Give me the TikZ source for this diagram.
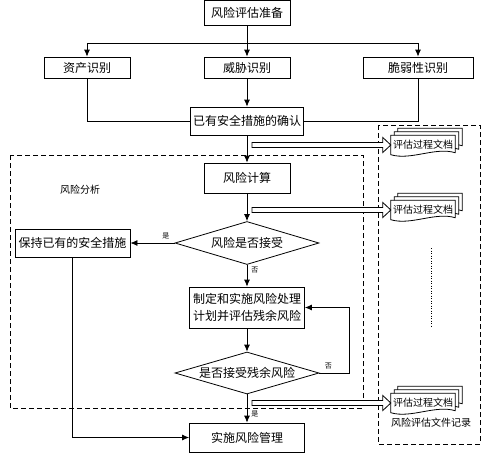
\documentclass[tikz,border=0pt]{standalone}
\usepackage{fontspec}
\setmainfont{Noto Sans CJK SC}
\usetikzlibrary{shapes.geometric,arrows.meta,calc,backgrounds}
\newcommand\docstack[1]{%
 \foreach \o in {7,3.5,0}{%
  \draw[ln,fill=white] ($(#1.north west)+(\o,-\o)$) -- ($(#1.north east)+(\o,-\o)$) -- ($(#1.south east)+(\o,-\o-2)$) .. controls +(-20,-6) and +(20,6) .. ($(#1.south west)+(\o,-\o)$) -- cycle;}}
\newcommand\hollowarrow[2]{%
  \draw[ln,fill=white] ($(#1)+(0,-2.5)$) -- ($(#2.west)+(-8,-2.5)$) -- ($(#2.west)+(-8,-7.5)$) -- (#2.west) -- ($(#2.west)+(-8,7.5)$) -- ($(#2.west)+(-8,2.5)$) -- ($(#1)+(0,2.5)$) -- cycle;}
\begin{document}
\begin{tikzpicture}[x=1pt,y=-1pt,
  ln/.style={line width=0.8pt},
  arr/.style={line width=0.8pt,-{Latex[length=7pt,width=6pt]}},
  box/.style={draw,line width=0.8pt,inner sep=0pt,font=\fontsize{12}{17}\selectfont,align=center},
  dia/.style={draw,line width=0.8pt,diamond,inner sep=0pt,aspect=3.35,font=\fontsize{12}{14}\selectfont},
  lbl/.style={font=\fontsize{7}{8}\selectfont,inner sep=1pt},
  frame/.style={line width=0.8pt,dash pattern=on 5pt off 3pt},
  doc/.style={inner sep=0pt,minimum width=64pt,minimum height=19pt,font=\fontsize{10}{12}\selectfont}]
\useasboundingbox (0,0) rectangle (485,461);

% frames
\draw[frame] (10,155) rectangle (363,408);
\draw[frame] (378,125) rectangle (480,444);
\node[font=\fontsize{10}{12}\selectfont] (fxlabel) at (80,190) {风险分析};
\node[font=\fontsize{10}{12}\selectfont] (reclabel) at (431,423) {风险评估文件记录};
\draw[line width=1pt,dash pattern=on 1pt off 1.5pt] (431,248) -- (431,328);

% nodes
\node[box,minimum width=86pt,minimum height=25pt] (prep) at (247,13) {风险评估准备};
\node[box,minimum width=86pt,minimum height=21pt] (asset) at (87,67.5) {资产识别};
\node[box,minimum width=86pt,minimum height=21pt] (threat) at (247,67.5) {威胁识别};
\node[box,minimum width=110pt,minimum height=21pt] (vuln) at (418,67.5) {脆弱性识别};
\node[box,minimum width=113pt,minimum height=28pt] (confirm) at (247,121) {已有安全措施的确认};
\node[box,minimum width=86pt,minimum height=30pt] (calc) at (247,178) {风险计算};
\node[dia,minimum width=144pt,minimum height=43pt] (dec1) at (247,243) {风险是否接受};
\node[box,minimum width=115pt,minimum height=28pt] (keep) at (72.5,243) {保持已有的安全措施};
\node[box,minimum width=115pt,minimum height=41pt] (plan) at (247,307.5) {制定和实施风险处理\\计划并评估残余风险};
\node[dia,minimum width=144pt,minimum height=42pt] (dec2) at (247,373) {是否接受残余风险};
\node[box,minimum width=115pt,minimum height=29pt] (impl) at (247,437.5) {实施风险管理};

\node[doc] (d1) at (423,145) {评估过程文档};
\node[doc] (d2) at (423,210) {评估过程文档};
\node[doc] (d3) at (423,403) {评估过程文档};
\begin{scope}[on background layer]
\docstack{d1}\docstack{d2}\docstack{d3}
\end{scope}

\coordinate (bus) at (247,43);
\coordinate (loop) at (349,373);
\coordinate (h1) at (252,145);
\coordinate (h2) at (252,210);
\coordinate (h3) at (252,403);

% connectors
\draw[arr] (prep) -- (threat);
\draw[arr] (bus) -| (asset);
\draw[arr] (bus) -| (vuln);
\draw[ln] (asset) |- (confirm);
\draw[ln] (vuln) |- (confirm);
\draw[arr] (threat) -- (confirm);
\draw[arr] (confirm) -- (calc);
\draw[arr] (calc) -- (dec1);
\draw[arr] (dec1) -- node[lbl,pos=0.2,above=3pt]{是} (keep);
\draw[arr] (dec1) -- node[lbl,pos=0.25,right=3pt]{否} (plan);
\draw[arr] (plan) -- (dec2);
\draw[arr] (dec2.east) -- node[lbl,pos=0.3,above=3pt]{否} (loop) |- (plan.east);
\draw[arr] (dec2) -- node[lbl,pos=0.7,right=3pt]{是} (impl);
\draw[arr] (keep) |- (impl);

\hollowarrow{h1}{d1}
\hollowarrow{h2}{d2}
\hollowarrow{h3}{d3}
\end{tikzpicture}
\end{document}
